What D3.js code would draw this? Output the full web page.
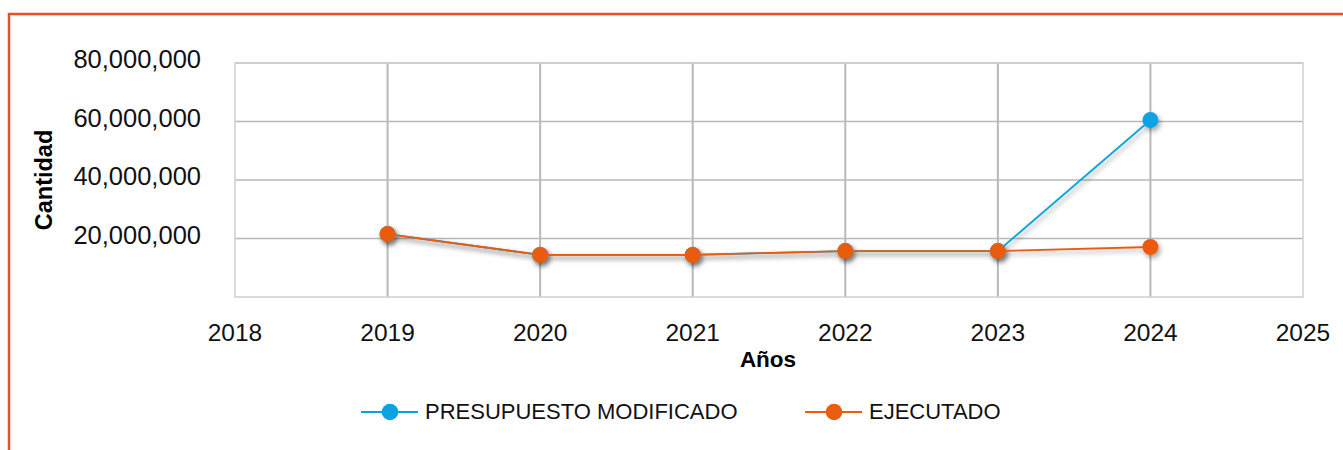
<!DOCTYPE html>
<meta charset="utf-8">
<style>
body { margin: 0; background: #fff; }
svg { font-family: "Liberation Sans", Arial, sans-serif; display: block; }
.grid line { stroke: #b8b8b8; }
</style>
<body>
<svg id="chart"></svg>
<script src="https://d3js.org/d3.v7.min.js"></script>
<script>

var years = [2019, 2020, 2021, 2022, 2023, 2024];
var presupuesto = [21500000, 14400000, 14400000, 15700000, 15700000, 60500000];
var ejecutado = [21500000, 14400000, 14400000, 15700000, 15700000, 17100000];
var yTicks = [20000000, 40000000, 60000000, 80000000];
var xTicks = [2018, 2019, 2020, 2021, 2022, 2023, 2024, 2025];

var width = 1343,
    height = 450;

var margin = {left: 235, right: 40, top: 63, bottom: 153};

var svg = d3.select("#chart")
    .attr("width", width)
    .attr("height", height);

var defs = svg.append("defs");
var f = defs.append("filter").attr("id", "shadow")
    .attr("x", "-50%").attr("y", "-50%").attr("width", "200%").attr("height", "200%");
f.append("feDropShadow")
    .attr("dx", 2).attr("dy", 3).attr("stdDeviation", 2.5)
    .attr("flood-color", "#000").attr("flood-opacity", 0.35);

// outer frame
svg.append("rect")
    .attr("x", 9).attr("y", 14)
    .attr("width", width + 20).attr("height", height + 20)
    .attr("fill", "none")
    .attr("stroke", "#e8502a")
    .attr("stroke-width", 2.5);

var x = d3.scaleLinear()
    .domain([2018, 2025])
    .range([margin.left, width - margin.right]);

var y = d3.scaleLinear()
    .domain([0, 80000000])
    .range([height - margin.bottom, margin.top]);

var g = svg.append("g");

// horizontal grid
g.append("g").attr("class", "grid")
  .selectAll("line")
  .data(yTicks)
  .enter().append("line")
    .attr("x1", x(2018)).attr("x2", x(2025))
    .attr("y1", function(d) { return y(d); })
    .attr("y2", function(d) { return y(d); })
    .attr("stroke-width", 1.3);

// vertical grid
g.append("g").attr("class", "grid")
  .selectAll("line")
  .data(xTicks.slice(1, -1))
  .enter().append("line")
    .attr("x1", function(d) { return x(d); })
    .attr("x2", function(d) { return x(d); })
    .attr("y1", y(80000000)).attr("y2", y(0))
    .attr("stroke-width", 2);

// plot border
g.append("rect")
    .attr("x", x(2018)).attr("y", y(80000000))
    .attr("width", x(2025) - x(2018))
    .attr("height", y(0) - y(80000000))
    .attr("fill", "none")
    .attr("stroke", "#cfcfcf")
    .attr("stroke-width", 1.5);

// y axis labels
var fmt = d3.format(",");
g.append("g")
  .selectAll("text")
  .data(yTicks)
  .enter().append("text")
    .attr("x", 201)
    .attr("y", function(d) { return y(d) + 5; })
    .attr("text-anchor", "end")
    .attr("font-size", 25.5)
    .attr("fill", "#111")
    .text(function(d) { return fmt(d); });

// x axis labels
g.append("g")
  .selectAll("text")
  .data(xTicks)
  .enter().append("text")
    .attr("x", function(d) { return x(d); })
    .attr("y", 341)
    .attr("text-anchor", "middle")
    .attr("font-size", 24.5)
    .attr("fill", "#111")
    .text(function(d) { return d; });

g.append("text")
    .attr("x", 768).attr("y", 367)
    .attr("text-anchor", "middle")
    .attr("font-size", 22.5)
    .attr("font-weight", "bold")
    .text("Años");

g.append("text")
    .attr("transform", "translate(52,180)rotate(-90)")
    .attr("text-anchor", "middle")
    .attr("font-size", 23.5)
    .attr("font-weight", "bold")
    .text("Cantidad");

var series = [
  {name: "PRESUPUESTO MODIFICADO", values: presupuesto, color: "#0ba2e2", lx: 361},
  {name: "EJECUTADO", values: ejecutado, color: "#ea5c0e", lx: 805}
];

var line = d3.line()
    .x(function(d, i) { return x(years[i]); })
    .y(function(d) { return y(d); });

series.forEach(function(s) {
  var sg = g.append("g").attr("filter", "url(#shadow)");
  sg.append("path")
      .datum(s.values)
      .attr("d", line)
      .attr("fill", "none")
      .attr("stroke", s.color)
      .attr("stroke-width", 1.8);
  sg.selectAll("circle")
    .data(s.values)
    .enter().append("circle")
      .attr("cx", function(d, i) { return x(years[i]); })
      .attr("cy", function(d) { return y(d); })
      .attr("r", 8)
      .attr("fill", s.color);
});

// legend
var lg = svg.append("g");
series.forEach(function(s) {
  lg.append("line")
      .attr("x1", s.lx).attr("x2", s.lx + 57)
      .attr("y1", 412).attr("y2", 412)
      .attr("stroke", s.color).attr("stroke-width", 2.2);
  lg.append("circle")
      .attr("cx", s.lx + 29).attr("cy", 412)
      .attr("r", 8.3).attr("fill", s.color);
  lg.append("text")
      .attr("x", s.lx + 64).attr("y", 419)
      .attr("font-size", 22)
      .attr("fill", "#111")
      .text(s.name);
});

</script>
